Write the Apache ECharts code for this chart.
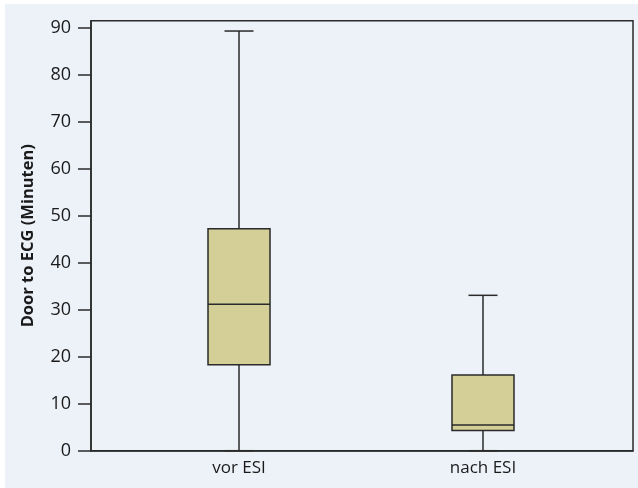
<!DOCTYPE html>
<html>
<head>
<meta charset="utf-8">
<script src="https://cdn.jsdelivr.net/npm/echarts@6/dist/echarts.min.js"></script>
<style>
  html, body { margin: 0; padding: 0; background: #ffffff; }
  #chart { width: 638px; height: 488px; }
</style>
</head>
<body>
<div id="chart"></div>
<script>
// Groups on the horizontal axis
const categories = ['vor ESI', 'nach ESI'];
// Five-number summaries per group: [min, Q1, median, Q3, max] in minutes
const vorESI = [0, 18.3, 31.2, 47.3, 89.4];
const nachESI = [0, 4.3, 5.5, 16.1, 33.1];
// Y axis tick values
const yTicks = [0, 10, 20, 30, 40, 50, 60, 70, 80, 90];

const summaries = [vorESI, nachESI];
const seriesData = summaries.map((s, i) => [i].concat(s));

const chart = echarts.init(document.getElementById('chart'), null, { renderer: 'canvas' });

const lineColor = '#2a2a2a';
const boxFill = '#d3cf97';
const BOX_W = 62;
const CAP_W = 29;

function renderBox(params, api) {
  const idx = api.value(0);
  const vMin = api.value(1), q1 = api.value(2), med = api.value(3), q3 = api.value(4), vMax = api.value(5);
  const pMin = api.coord([idx, vMin]);
  const pQ1 = api.coord([idx, q1]);
  const pMed = api.coord([idx, med]);
  const pQ3 = api.coord([idx, q3]);
  const pMax = api.coord([idx, vMax]);
  const cx = pMin[0];
  const stroke = { stroke: lineColor, lineWidth: 1.5 };
  return {
    type: 'group',
    children: [
      { type: 'line', shape: { x1: cx, y1: pMax[1], x2: cx, y2: pQ3[1] }, style: stroke },
      { type: 'line', shape: { x1: cx, y1: pQ1[1], x2: cx, y2: pMin[1] }, style: stroke },
      { type: 'line', shape: { x1: cx - CAP_W / 2, y1: pMax[1], x2: cx + CAP_W / 2, y2: pMax[1] }, style: stroke },
      { type: 'line', shape: { x1: cx - CAP_W / 2, y1: pMin[1], x2: cx + CAP_W / 2, y2: pMin[1] }, style: stroke },
      { type: 'rect', shape: { x: cx - BOX_W / 2, y: pQ3[1], width: BOX_W, height: pQ1[1] - pQ3[1] },
        style: { fill: boxFill, stroke: lineColor, lineWidth: 1.5 } },
      { type: 'line', shape: { x1: cx - BOX_W / 2, y1: pMed[1], x2: cx + BOX_W / 2, y2: pMed[1] }, style: stroke }
    ]
  };
}

const option = {
  backgroundColor: '#edf1f8',
  animation: false,
  textStyle: { fontFamily: '"Open Sans", "Noto Sans", sans-serif' },
  // thin white margin along the top and left edges
  graphic: [
    { type: 'rect', z: -10, silent: true, shape: { x: 0, y: 0, width: 638, height: 4 }, style: { fill: '#ffffff' } },
    { type: 'rect', z: -10, silent: true, shape: { x: 0, y: 0, width: 5, height: 488 }, style: { fill: '#ffffff' } }
  ],
  grid: {
    left: 91, right: 5, top: 20.7, bottom: 37.3,
    show: true,
    backgroundColor: 'transparent',
    borderColor: lineColor,
    borderWidth: 1.5
  },
  xAxis: {
    type: 'value',
    min: -0.6066,
    max: 1.6148,
    splitLine: { show: false },
    axisLine: { show: true, onZero: false, lineStyle: { color: lineColor, width: 1.5 } },
    axisTick: { show: false },
    axisLabel: {
      customValues: [0, 1],
      formatter: v => categories[Math.round(v)] || '',
      color: '#1a1a1a',
      fontSize: 17,
      margin: 9
    }
  },
  yAxis: {
    type: 'value',
    min: 0,
    max: 91.6,
    name: 'Door to ECG (Minuten)',
    nameLocation: 'middle',
    nameGap: 54,
    nameTextStyle: { color: '#1a1a1a', fontSize: 16.5, fontWeight: 'bold' },
    splitLine: { show: false },
    axisLine: { show: true, onZero: false, lineStyle: { color: lineColor, width: 1.5 } },
    axisTick: { show: true, length: 13, customValues: yTicks, lineStyle: { color: lineColor, width: 1.5 } },
    axisLabel: { customValues: yTicks, color: '#1a1a1a', fontSize: 18, margin: 20 }
  },
  series: [{
    type: 'custom',
    renderItem: renderBox,
    encode: { x: 0, y: [1, 2, 3, 4, 5] },
    data: seriesData,
    clip: false
  }]
};

chart.setOption(option);
</script>
</body>
</html>
